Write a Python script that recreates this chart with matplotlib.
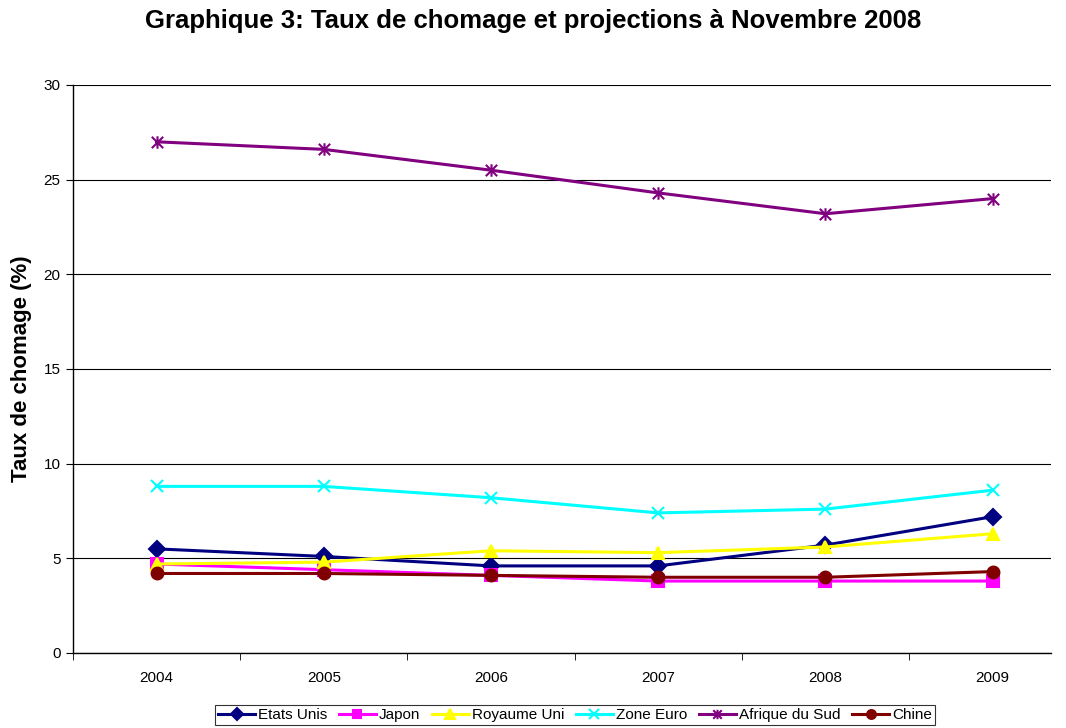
import matplotlib
matplotlib.use("Agg")
import matplotlib.pyplot as plt
from matplotlib.path import Path

plt.rcParams['font.family'] = ['Liberation Sans', 'DejaVu Sans']

years = [2004, 2005, 2006, 2007, 2008, 2009]
etats_unis = [5.5, 5.1, 4.6, 4.6, 5.7, 7.2]
japon = [4.7, 4.4, 4.1, 3.8, 3.8, 3.8]
royaume_uni = [4.7, 4.8, 5.4, 5.3, 5.6, 6.3]
zone_euro = [8.8, 8.8, 8.2, 7.4, 7.6, 8.6]
afrique_sud = [27.0, 26.6, 25.5, 24.3, 23.2, 24.0]
chine = [4.2, 4.2, 4.1, 4.0, 4.0, 4.3]

star = Path([(-1, -1), (1, 1), (-1, 1), (1, -1), (0, -1.1), (0, 1.1)],
            [Path.MOVETO, Path.LINETO, Path.MOVETO, Path.LINETO, Path.MOVETO, Path.LINETO])

series = [
    ("Etats Unis", etats_unis, '#000080', 'D', 8),
    ("Japon", japon, '#FF00FF', 's', 8),
    ("Royaume Uni", royaume_uni, '#FFFF00', '^', 9),
    ("Zone Euro", zone_euro, '#00FFFF', 'x', 9),
    ("Afrique du Sud", afrique_sud, '#800080', star, 9),
    ("Chine", chine, '#800000', 'o', 8.5),
]

fig = plt.figure(figsize=(10.66, 7.28), dpi=100)
ax = fig.add_axes([73/1066, 1-653/728, (1051-73)/1066, (653-85)/728])

for name, vals, col, mk, ms in series:
    ax.plot(years, vals, color=col, lw=2.2, marker=mk, markersize=ms,
            markerfacecolor=col, markeredgecolor=col, markeredgewidth=1.5, label=name)

ax.set_ylim(0, 30)
ax.set_yticks([0, 5, 10, 15, 20, 25, 30])
ax.set_xlim(2003.5, 2003.5 + 978/167.2)
ax.set_xticks(years)
ax.set_xticks([2003.5, 2004.5, 2005.5, 2006.5, 2007.5, 2008.5], minor=True)
ax.tick_params(axis='x', which='major', length=0, pad=13, labelsize=11)
ax.tick_params(axis='x', which='minor', length=5, direction='out', color='black')
ax.tick_params(axis='y', length=5, direction='out', labelsize=11, pad=4)
ax.grid(axis='y', color='black', lw=0.8)
ax.set_axisbelow(True)
for s in ['top', 'right']:
    ax.spines[s].set_visible(False)
for s in ['left', 'bottom']:
    ax.spines[s].set_color('black')
    ax.spines[s].set_linewidth(1.0)

ax.set_ylabel("Taux de chomage (%)", fontsize=16, fontweight='bold', labelpad=8)
fig.text(0.5, 1-21/728, "Graphique 3: Taux de chomage et projections à Novembre 2008",
         ha='center', va='center', fontsize=18.5, fontweight='bold')

leg = fig.legend(loc='center', bbox_to_anchor=(575/1066, 1-715/728), ncol=6,
                 fontsize=11, frameon=True, fancybox=False, edgecolor='black',
                 handlelength=2.4, handletextpad=0.2, columnspacing=0.78,
                 borderpad=0.22, borderaxespad=0, markerscale=0.75)
leg.get_frame().set_linewidth(0.8)

fig.savefig("out.png", dpi=100)
